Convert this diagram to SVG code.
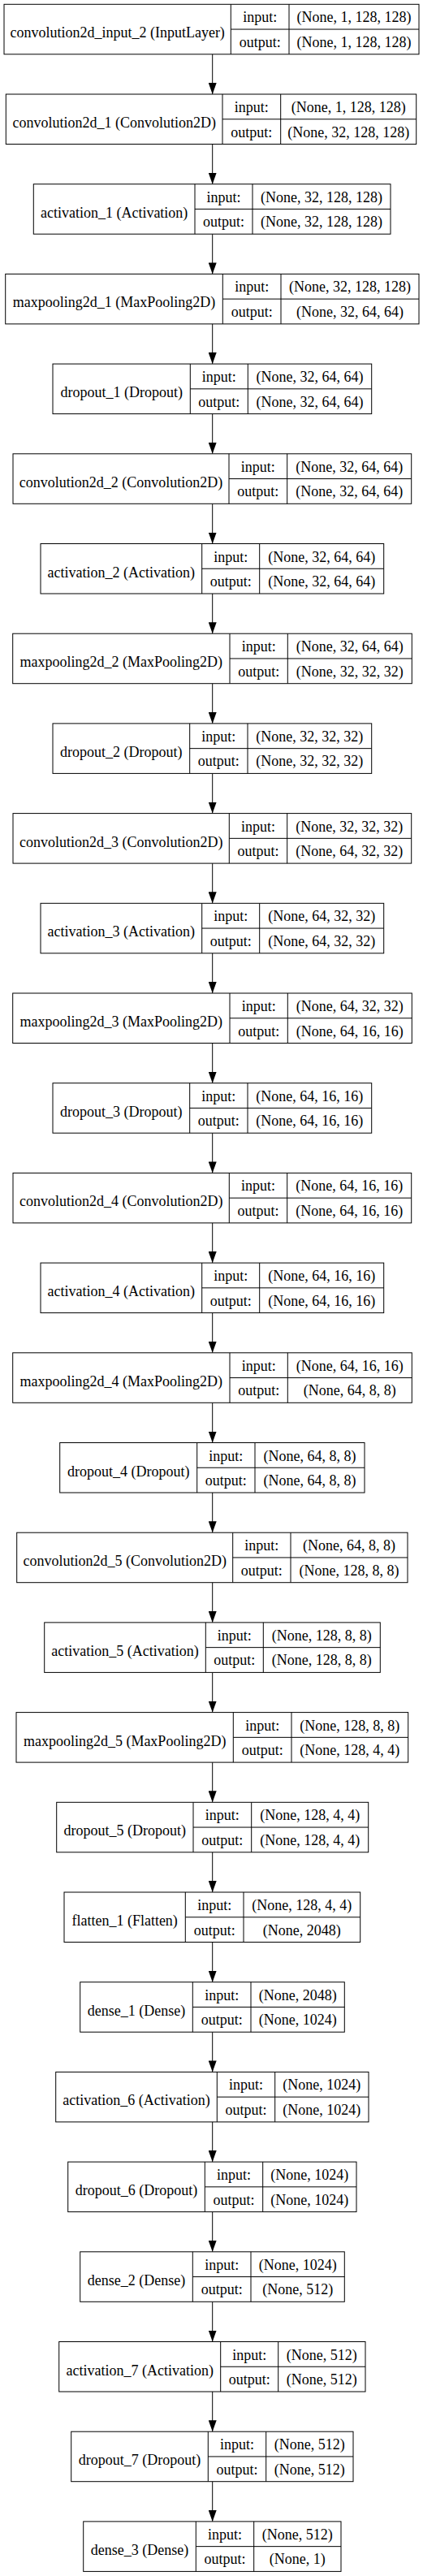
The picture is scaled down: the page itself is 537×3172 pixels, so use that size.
<svg xmlns="http://www.w3.org/2000/svg" width="537" height="3172" viewBox="0 0 537 3172">
<style>
.box{fill:#fff;stroke:#000;stroke-width:1}
.div{fill:none;stroke:#000;stroke-width:1}
.edge{fill:none;stroke:#000;stroke-width:1}
text{font-family:"Liberation Serif","Times New Roman",serif;font-size:18px;text-anchor:middle;fill:#000}
</style>
<defs>
<marker id="arr" markerUnits="userSpaceOnUse" markerWidth="14" markerHeight="10" viewBox="0 0 14 10" refX="14" refY="5" orient="auto">
<path d="M0,0 L14,5 L0,10 Z" fill="#000"/>
</marker>
</defs>
<rect width="537" height="3172" fill="#fff"/>
<g id="connectors">
<path class="edge" marker-end="url(#arr)" d="M261.7,66.8 V116"/>
<path class="edge" marker-end="url(#arr)" d="M261.7,177.5 V226.7"/>
<path class="edge" marker-end="url(#arr)" d="M261.7,288.2 V337.4"/>
<path class="edge" marker-end="url(#arr)" d="M261.7,398.9 V448.1"/>
<path class="edge" marker-end="url(#arr)" d="M261.7,509.6 V558.8"/>
<path class="edge" marker-end="url(#arr)" d="M261.7,620.3 V669.5"/>
<path class="edge" marker-end="url(#arr)" d="M261.7,731 V780.2"/>
<path class="edge" marker-end="url(#arr)" d="M261.7,841.7 V890.9"/>
<path class="edge" marker-end="url(#arr)" d="M261.7,952.4 V1001.6"/>
<path class="edge" marker-end="url(#arr)" d="M261.7,1063.1 V1112.3"/>
<path class="edge" marker-end="url(#arr)" d="M261.7,1173.8 V1223"/>
<path class="edge" marker-end="url(#arr)" d="M261.7,1284.5 V1333.7"/>
<path class="edge" marker-end="url(#arr)" d="M261.7,1395.2 V1444.4"/>
<path class="edge" marker-end="url(#arr)" d="M261.7,1505.9 V1555.1"/>
<path class="edge" marker-end="url(#arr)" d="M261.7,1616.6 V1665.8"/>
<path class="edge" marker-end="url(#arr)" d="M261.7,1727.3 V1776.5"/>
<path class="edge" marker-end="url(#arr)" d="M261.7,1838 V1887.2"/>
<path class="edge" marker-end="url(#arr)" d="M261.7,1948.7 V1997.9"/>
<path class="edge" marker-end="url(#arr)" d="M261.7,2059.4 V2108.6"/>
<path class="edge" marker-end="url(#arr)" d="M261.7,2170.1 V2219.3"/>
<path class="edge" marker-end="url(#arr)" d="M261.7,2280.8 V2330"/>
<path class="edge" marker-end="url(#arr)" d="M261.7,2391.5 V2440.7"/>
<path class="edge" marker-end="url(#arr)" d="M261.7,2502.2 V2551.4"/>
<path class="edge" marker-end="url(#arr)" d="M261.7,2612.9 V2662.1"/>
<path class="edge" marker-end="url(#arr)" d="M261.7,2723.6 V2772.8"/>
<path class="edge" marker-end="url(#arr)" d="M261.7,2834.3 V2883.5"/>
<path class="edge" marker-end="url(#arr)" d="M261.7,2945 V2994.2"/>
<path class="edge" marker-end="url(#arr)" d="M261.7,3055.7 V3104.9"/>
</g>
<g id="n0" transform="translate(0,5.3)"><rect class="box" x="5" y="0" width="511" height="61.5"/><path class="div" d="M284.3,0V61.5M356,0V61.5M284.3,30.75H516"/><text x="144.65" y="41">convolution2d_input_2 (InputLayer)</text><text x="320.15" y="22">input:</text><text x="320.15" y="52.5">output:</text><text x="436" y="22">(None, 1, 128, 128)</text><text x="436" y="52.5">(None, 1, 128, 128)</text></g>
<g id="n1" transform="translate(0,116)"><rect class="box" x="7.3" y="0" width="505.4" height="61.5"/><path class="div" d="M274,0V61.5M345.7,0V61.5M274,30.75H512.7"/><text x="140.65" y="41">convolution2d_1 (Convolution2D)</text><text x="309.85" y="22">input:</text><text x="309.85" y="52.5">output:</text><text x="429.2" y="22">(None, 1, 128, 128)</text><text x="429.2" y="52.5">(None, 32, 128, 128)</text></g>
<g id="n2" transform="translate(0,226.7)"><rect class="box" x="41.3" y="0" width="439.7" height="61.5"/><path class="div" d="M240,0V61.5M311,0V61.5M240,30.75H481"/><text x="140.65" y="41">activation_1 (Activation)</text><text x="275.5" y="22">input:</text><text x="275.5" y="52.5">output:</text><text x="396" y="22">(None, 32, 128, 128)</text><text x="396" y="52.5">(None, 32, 128, 128)</text></g>
<g id="n3" transform="translate(0,337.4)"><rect class="box" x="6.7" y="0" width="509.3" height="61.5"/><path class="div" d="M274.3,0V61.5M346,0V61.5M274.3,30.75H516"/><text x="140.5" y="41">maxpooling2d_1 (MaxPooling2D)</text><text x="310.15" y="22">input:</text><text x="310.15" y="52.5">output:</text><text x="431" y="22">(None, 32, 128, 128)</text><text x="431" y="52.5">(None, 32, 64, 64)</text></g>
<g id="n4" transform="translate(0,448.1)"><rect class="box" x="65" y="0" width="392.7" height="61.5"/><path class="div" d="M234.3,0V61.5M305.3,0V61.5M234.3,30.75H457.7"/><text x="149.65" y="41">dropout_1 (Dropout)</text><text x="269.8" y="22">input:</text><text x="269.8" y="52.5">output:</text><text x="381.5" y="22">(None, 32, 64, 64)</text><text x="381.5" y="52.5">(None, 32, 64, 64)</text></g>
<g id="n5" transform="translate(0,558.8)"><rect class="box" x="16" y="0" width="490.7" height="61.5"/><path class="div" d="M282,0V61.5M353.7,0V61.5M282,30.75H506.7"/><text x="149" y="41">convolution2d_2 (Convolution2D)</text><text x="317.85" y="22">input:</text><text x="317.85" y="52.5">output:</text><text x="430.2" y="22">(None, 32, 64, 64)</text><text x="430.2" y="52.5">(None, 32, 64, 64)</text></g>
<g id="n6" transform="translate(0,669.5)"><rect class="box" x="50" y="0" width="422.7" height="61.5"/><path class="div" d="M248.7,0V61.5M319.7,0V61.5M248.7,30.75H472.7"/><text x="149.35" y="41">activation_2 (Activation)</text><text x="284.2" y="22">input:</text><text x="284.2" y="52.5">output:</text><text x="396.2" y="22">(None, 32, 64, 64)</text><text x="396.2" y="52.5">(None, 32, 64, 64)</text></g>
<g id="n7" transform="translate(0,780.2)"><rect class="box" x="15.7" y="0" width="491.6" height="61.5"/><path class="div" d="M283,0V61.5M354.3,0V61.5M283,30.75H507.3"/><text x="149.35" y="41">maxpooling2d_2 (MaxPooling2D)</text><text x="318.65" y="22">input:</text><text x="318.65" y="52.5">output:</text><text x="430.8" y="22">(None, 32, 64, 64)</text><text x="430.8" y="52.5">(None, 32, 32, 32)</text></g>
<g id="n8" transform="translate(0,890.9)"><rect class="box" x="65" y="0" width="392.7" height="61.5"/><path class="div" d="M233.7,0V61.5M305,0V61.5M233.7,30.75H457.7"/><text x="149.35" y="41">dropout_2 (Dropout)</text><text x="269.35" y="22">input:</text><text x="269.35" y="52.5">output:</text><text x="381.35" y="22">(None, 32, 32, 32)</text><text x="381.35" y="52.5">(None, 32, 32, 32)</text></g>
<g id="n9" transform="translate(0,1001.6)"><rect class="box" x="16" y="0" width="490.7" height="61.5"/><path class="div" d="M282.3,0V61.5M353.7,0V61.5M282.3,30.75H506.7"/><text x="149.15" y="41">convolution2d_3 (Convolution2D)</text><text x="318" y="22">input:</text><text x="318" y="52.5">output:</text><text x="430.2" y="22">(None, 32, 32, 32)</text><text x="430.2" y="52.5">(None, 64, 32, 32)</text></g>
<g id="n10" transform="translate(0,1112.3)"><rect class="box" x="50" y="0" width="422.7" height="61.5"/><path class="div" d="M248.7,0V61.5M319.7,0V61.5M248.7,30.75H472.7"/><text x="149.35" y="41">activation_3 (Activation)</text><text x="284.2" y="22">input:</text><text x="284.2" y="52.5">output:</text><text x="396.2" y="22">(None, 64, 32, 32)</text><text x="396.2" y="52.5">(None, 64, 32, 32)</text></g>
<g id="n11" transform="translate(0,1223)"><rect class="box" x="15.7" y="0" width="491.6" height="61.5"/><path class="div" d="M283,0V61.5M354.3,0V61.5M283,30.75H507.3"/><text x="149.35" y="41">maxpooling2d_3 (MaxPooling2D)</text><text x="318.65" y="22">input:</text><text x="318.65" y="52.5">output:</text><text x="430.8" y="22">(None, 64, 32, 32)</text><text x="430.8" y="52.5">(None, 64, 16, 16)</text></g>
<g id="n12" transform="translate(0,1333.7)"><rect class="box" x="65" y="0" width="392.7" height="61.5"/><path class="div" d="M233.7,0V61.5M305,0V61.5M233.7,30.75H457.7"/><text x="149.35" y="41">dropout_3 (Dropout)</text><text x="269.35" y="22">input:</text><text x="269.35" y="52.5">output:</text><text x="381.35" y="22">(None, 64, 16, 16)</text><text x="381.35" y="52.5">(None, 64, 16, 16)</text></g>
<g id="n13" transform="translate(0,1444.4)"><rect class="box" x="16" y="0" width="490.7" height="61.5"/><path class="div" d="M282.3,0V61.5M353.7,0V61.5M282.3,30.75H506.7"/><text x="149.15" y="41">convolution2d_4 (Convolution2D)</text><text x="318" y="22">input:</text><text x="318" y="52.5">output:</text><text x="430.2" y="22">(None, 64, 16, 16)</text><text x="430.2" y="52.5">(None, 64, 16, 16)</text></g>
<g id="n14" transform="translate(0,1555.1)"><rect class="box" x="50" y="0" width="422.7" height="61.5"/><path class="div" d="M248.7,0V61.5M319.7,0V61.5M248.7,30.75H472.7"/><text x="149.35" y="41">activation_4 (Activation)</text><text x="284.2" y="22">input:</text><text x="284.2" y="52.5">output:</text><text x="396.2" y="22">(None, 64, 16, 16)</text><text x="396.2" y="52.5">(None, 64, 16, 16)</text></g>
<g id="n15" transform="translate(0,1665.8)"><rect class="box" x="15.7" y="0" width="491.6" height="61.5"/><path class="div" d="M283,0V61.5M354.3,0V61.5M283,30.75H507.3"/><text x="149.35" y="41">maxpooling2d_4 (MaxPooling2D)</text><text x="318.65" y="22">input:</text><text x="318.65" y="52.5">output:</text><text x="430.8" y="22">(None, 64, 16, 16)</text><text x="430.8" y="52.5">(None, 64, 8, 8)</text></g>
<g id="n16" transform="translate(0,1776.5)"><rect class="box" x="73.7" y="0" width="375.3" height="61.5"/><path class="div" d="M242.7,0V61.5M314,0V61.5M242.7,30.75H449"/><text x="158.2" y="41">dropout_4 (Dropout)</text><text x="278.35" y="22">input:</text><text x="278.35" y="52.5">output:</text><text x="381.5" y="22">(None, 64, 8, 8)</text><text x="381.5" y="52.5">(None, 64, 8, 8)</text></g>
<g id="n17" transform="translate(0,1887.2)"><rect class="box" x="20.7" y="0" width="481.3" height="61.5"/><path class="div" d="M286.7,0V61.5M358,0V61.5M286.7,30.75H502"/><text x="153.7" y="41">convolution2d_5 (Convolution2D)</text><text x="322.35" y="22">input:</text><text x="322.35" y="52.5">output:</text><text x="430" y="22">(None, 64, 8, 8)</text><text x="430" y="52.5">(None, 128, 8, 8)</text></g>
<g id="n18" transform="translate(0,1997.9)"><rect class="box" x="54.7" y="0" width="413.6" height="61.5"/><path class="div" d="M253.3,0V61.5M324.3,0V61.5M253.3,30.75H468.3"/><text x="154" y="41">activation_5 (Activation)</text><text x="288.8" y="22">input:</text><text x="288.8" y="52.5">output:</text><text x="396.3" y="22">(None, 128, 8, 8)</text><text x="396.3" y="52.5">(None, 128, 8, 8)</text></g>
<g id="n19" transform="translate(0,2108.6)"><rect class="box" x="20" y="0" width="482.7" height="61.5"/><path class="div" d="M287.3,0V61.5M359,0V61.5M287.3,30.75H502.7"/><text x="153.65" y="41">maxpooling2d_5 (MaxPooling2D)</text><text x="323.15" y="22">input:</text><text x="323.15" y="52.5">output:</text><text x="430.85" y="22">(None, 128, 8, 8)</text><text x="430.85" y="52.5">(None, 128, 4, 4)</text></g>
<g id="n20" transform="translate(0,2219.3)"><rect class="box" x="69.7" y="0" width="384" height="61.5"/><path class="div" d="M238,0V61.5M309.7,0V61.5M238,30.75H453.7"/><text x="153.85" y="41">dropout_5 (Dropout)</text><text x="273.85" y="22">input:</text><text x="273.85" y="52.5">output:</text><text x="381.7" y="22">(None, 128, 4, 4)</text><text x="381.7" y="52.5">(None, 128, 4, 4)</text></g>
<g id="n21" transform="translate(0,2330)"><rect class="box" x="79" y="0" width="364.7" height="61.5"/><path class="div" d="M228.3,0V61.5M300,0V61.5M228.3,30.75H443.7"/><text x="153.65" y="41">flatten_1 (Flatten)</text><text x="264.15" y="22">input:</text><text x="264.15" y="52.5">output:</text><text x="371.85" y="22">(None, 128, 4, 4)</text><text x="371.85" y="52.5">(None, 2048)</text></g>
<g id="n22" transform="translate(0,2440.7)"><rect class="box" x="98.7" y="0" width="325.6" height="61.5"/><path class="div" d="M237.3,0V61.5M309,0V61.5M237.3,30.75H424.3"/><text x="168" y="41">dense_1 (Dense)</text><text x="273.15" y="22">input:</text><text x="273.15" y="52.5">output:</text><text x="366.65" y="22">(None, 2048)</text><text x="366.65" y="52.5">(None, 1024)</text></g>
<g id="n23" transform="translate(0,2551.4)"><rect class="box" x="68.7" y="0" width="385.3" height="61.5"/><path class="div" d="M267.3,0V61.5M338.7,0V61.5M267.3,30.75H454"/><text x="168" y="41">activation_6 (Activation)</text><text x="303" y="22">input:</text><text x="303" y="52.5">output:</text><text x="396.35" y="22">(None, 1024)</text><text x="396.35" y="52.5">(None, 1024)</text></g>
<g id="n24" transform="translate(0,2662.1)"><rect class="box" x="83.7" y="0" width="355.3" height="61.5"/><path class="div" d="M252.3,0V61.5M323.7,0V61.5M252.3,30.75H439"/><text x="168" y="41">dropout_6 (Dropout)</text><text x="288" y="22">input:</text><text x="288" y="52.5">output:</text><text x="381.35" y="22">(None, 1024)</text><text x="381.35" y="52.5">(None, 1024)</text></g>
<g id="n25" transform="translate(0,2772.8)"><rect class="box" x="98.7" y="0" width="325.6" height="61.5"/><path class="div" d="M237.3,0V61.5M309,0V61.5M237.3,30.75H424.3"/><text x="168" y="41">dense_2 (Dense)</text><text x="273.15" y="22">input:</text><text x="273.15" y="52.5">output:</text><text x="366.65" y="22">(None, 1024)</text><text x="366.65" y="52.5">(None, 512)</text></g>
<g id="n26" transform="translate(0,2883.5)"><rect class="box" x="72.7" y="0" width="377.3" height="61.5"/><path class="div" d="M271.7,0V61.5M342.7,0V61.5M271.7,30.75H450"/><text x="172.2" y="41">activation_7 (Activation)</text><text x="307.2" y="22">input:</text><text x="307.2" y="52.5">output:</text><text x="396.35" y="22">(None, 512)</text><text x="396.35" y="52.5">(None, 512)</text></g>
<g id="n27" transform="translate(0,2994.2)"><rect class="box" x="87.7" y="0" width="347.3" height="61.5"/><path class="div" d="M256.3,0V61.5M327.7,0V61.5M256.3,30.75H435"/><text x="172" y="41">dropout_7 (Dropout)</text><text x="292" y="22">input:</text><text x="292" y="52.5">output:</text><text x="381.35" y="22">(None, 512)</text><text x="381.35" y="52.5">(None, 512)</text></g>
<g id="n28" transform="translate(0,3104.9)"><rect class="box" x="102.7" y="0" width="317.3" height="61.5"/><path class="div" d="M241.3,0V61.5M312.7,0V61.5M241.3,30.75H420"/><text x="172" y="41">dense_3 (Dense)</text><text x="277" y="22">input:</text><text x="277" y="52.5">output:</text><text x="366.35" y="22">(None, 512)</text><text x="366.35" y="52.5">(None, 1)</text></g>
</svg>
